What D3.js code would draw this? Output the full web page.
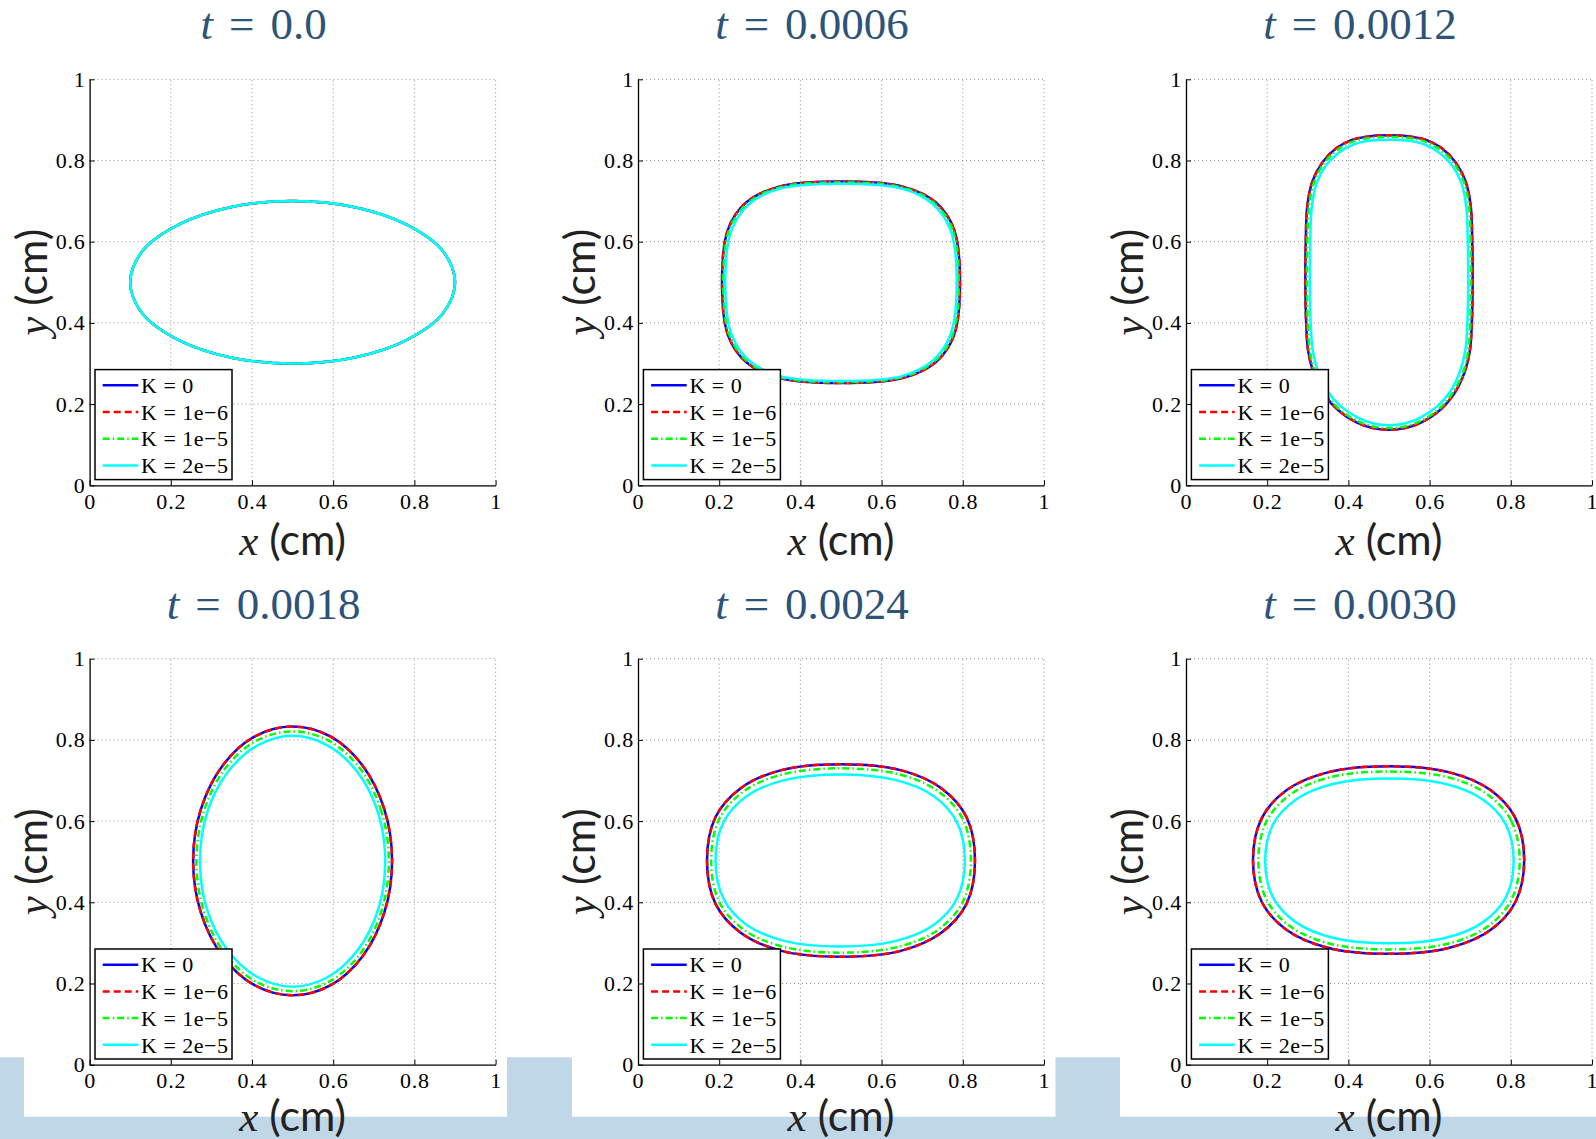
<!DOCTYPE html>
<html><head><meta charset="utf-8">
<script src="https://cdn.jsdelivr.net/npm/d3@7"></script>
<style>body{margin:0;background:#fff}svg{display:block}</style>
</head><body>
<svg id="fig" width="1596" height="1139"></svg>
<script>
// ---------------- data ----------------
const timeLabels = ["0.0", "0.0006", "0.0012", "0.0018", "0.0024", "0.0030"];
const seriesNames = ["K = 0", "K = 1e\u22126", "K = 1e\u22125", "K = 2e\u22125"];
const seriesColors = ["#0000ff", "#ff0000", "#00ff00", "#00ffff"];
const seriesDash = [null, "7,4", "7,3,1.5,3", null];
const tickValues = [0, 0.2, 0.4, 0.6, 0.8, 1];
const tickLabels = ["0", "0.2", "0.4", "0.6", "0.8", "1"];

// contour points [x, y] in cm
// t = 0.0 : all four curves coincide
const t0_all = [[0.900,0.500],[0.870,0.577],[0.783,0.641],[0.653,0.685],[0.500,0.700],[0.347,0.685],[0.217,0.641],[0.130,0.577],[0.100,0.500],[0.130,0.423],[0.217,0.359],[0.347,0.315],[0.500,0.300],[0.653,0.315],[0.783,0.359],[0.870,0.423]];

// t = 0.0006 (K = 0 and K = 1e-6 coincide)
const t1_K0 = [[0.793,0.500],[0.778,0.631],[0.733,0.697],[0.654,0.735],[0.500,0.748],[0.346,0.735],[0.267,0.697],[0.222,0.631],[0.207,0.500],[0.222,0.369],[0.267,0.303],[0.346,0.265],[0.500,0.252],[0.654,0.265],[0.733,0.303],[0.778,0.369]];
const t1_K1e5 = [[0.790,0.500],[0.775,0.630],[0.730,0.695],[0.653,0.733],[0.500,0.746],[0.347,0.733],[0.270,0.695],[0.225,0.630],[0.210,0.500],[0.225,0.370],[0.270,0.305],[0.347,0.267],[0.500,0.254],[0.653,0.267],[0.730,0.305],[0.775,0.370]];
const t1_K2e5 = [[0.785,0.500],[0.770,0.628],[0.726,0.693],[0.650,0.731],[0.500,0.743],[0.350,0.731],[0.274,0.693],[0.230,0.628],[0.215,0.500],[0.230,0.372],[0.274,0.307],[0.350,0.269],[0.500,0.257],[0.650,0.269],[0.726,0.307],[0.770,0.372]];

// t = 0.0012
const t2_K0 = [[0.706,0.500],[0.705,0.600],[0.701,0.690],[0.688,0.750],[0.664,0.795],[0.630,0.830],[0.590,0.851],[0.545,0.860],[0.500,0.862],[0.455,0.860],[0.410,0.851],[0.370,0.830],[0.336,0.795],[0.312,0.750],[0.299,0.690],[0.295,0.600],[0.294,0.500],[0.296,0.400],[0.301,0.330],[0.315,0.275],[0.340,0.225],[0.375,0.185],[0.420,0.155],[0.460,0.141],[0.500,0.137],[0.540,0.141],[0.580,0.155],[0.625,0.185],[0.660,0.225],[0.685,0.275],[0.699,0.330],[0.704,0.400]];
const t2_K1e5 = [[0.702,0.500],[0.701,0.600],[0.697,0.689],[0.684,0.748],[0.661,0.792],[0.627,0.826],[0.588,0.847],[0.544,0.856],[0.500,0.858],[0.456,0.856],[0.412,0.847],[0.373,0.826],[0.339,0.792],[0.316,0.748],[0.303,0.689],[0.299,0.600],[0.298,0.500],[0.300,0.400],[0.305,0.331],[0.318,0.277],[0.343,0.228],[0.377,0.188],[0.421,0.159],[0.461,0.145],[0.500,0.141],[0.539,0.145],[0.579,0.159],[0.623,0.188],[0.657,0.228],[0.682,0.277],[0.695,0.331],[0.700,0.400]];
const t2_K2e5 = [[0.695,0.500],[0.694,0.600],[0.690,0.688],[0.678,0.745],[0.656,0.787],[0.623,0.820],[0.586,0.840],[0.543,0.849],[0.500,0.851],[0.457,0.849],[0.414,0.840],[0.377,0.820],[0.344,0.787],[0.322,0.745],[0.310,0.688],[0.306,0.600],[0.305,0.500],[0.307,0.400],[0.312,0.333],[0.325,0.281],[0.348,0.233],[0.381,0.195],[0.424,0.166],[0.462,0.152],[0.500,0.148],[0.538,0.152],[0.576,0.166],[0.619,0.195],[0.652,0.233],[0.675,0.281],[0.688,0.333],[0.693,0.400]];

// t = 0.0018
const t3_K0 = [[0.745,0.502],[0.726,0.629],[0.673,0.736],[0.594,0.808],[0.500,0.833],[0.406,0.808],[0.327,0.736],[0.274,0.629],[0.255,0.502],[0.274,0.375],[0.327,0.268],[0.406,0.196],[0.500,0.171],[0.594,0.196],[0.673,0.268],[0.726,0.375]];
const t3_K1e5 = [[0.737,0.501],[0.719,0.623],[0.668,0.727],[0.591,0.797],[0.500,0.821],[0.409,0.797],[0.332,0.727],[0.281,0.623],[0.263,0.501],[0.281,0.379],[0.332,0.275],[0.409,0.205],[0.500,0.181],[0.591,0.205],[0.668,0.275],[0.719,0.379]];
const t3_K2e5 = [[0.728,0.501],[0.711,0.619],[0.661,0.719],[0.587,0.786],[0.500,0.810],[0.413,0.786],[0.339,0.719],[0.289,0.619],[0.272,0.501],[0.289,0.383],[0.339,0.283],[0.413,0.216],[0.500,0.192],[0.587,0.216],[0.661,0.283],[0.711,0.383]];

// t = 0.0024
const t4_K0 = [[0.830,0.503],[0.809,0.610],[0.747,0.681],[0.649,0.725],[0.500,0.740],[0.351,0.725],[0.253,0.681],[0.191,0.610],[0.170,0.503],[0.191,0.396],[0.253,0.325],[0.351,0.281],[0.500,0.266],[0.649,0.281],[0.747,0.325],[0.809,0.396]];
const t4_K1e5 = [[0.820,0.503],[0.800,0.605],[0.740,0.673],[0.644,0.715],[0.500,0.730],[0.356,0.715],[0.260,0.673],[0.200,0.605],[0.180,0.503],[0.200,0.401],[0.260,0.333],[0.356,0.291],[0.500,0.276],[0.644,0.291],[0.740,0.333],[0.800,0.401]];
const t4_K2e5 = [[0.805,0.503],[0.785,0.598],[0.728,0.662],[0.636,0.701],[0.498,0.715],[0.360,0.701],[0.268,0.662],[0.211,0.598],[0.191,0.503],[0.211,0.408],[0.268,0.344],[0.360,0.305],[0.498,0.291],[0.636,0.305],[0.728,0.344],[0.785,0.408]];

// t = 0.0030
const t5_K0 = [[0.833,0.504],[0.811,0.608],[0.749,0.677],[0.649,0.720],[0.499,0.735],[0.349,0.720],[0.249,0.677],[0.187,0.608],[0.165,0.504],[0.187,0.400],[0.249,0.331],[0.349,0.288],[0.499,0.273],[0.649,0.288],[0.749,0.331],[0.811,0.400]];
const t5_K1e5 = [[0.822,0.503],[0.801,0.601],[0.741,0.667],[0.645,0.708],[0.500,0.722],[0.355,0.708],[0.259,0.667],[0.199,0.601],[0.178,0.503],[0.199,0.405],[0.259,0.339],[0.355,0.298],[0.500,0.284],[0.645,0.298],[0.741,0.339],[0.801,0.405]];
const t5_K2e5 = [[0.807,0.502],[0.787,0.593],[0.730,0.654],[0.638,0.692],[0.501,0.705],[0.364,0.692],[0.272,0.654],[0.215,0.593],[0.195,0.502],[0.215,0.411],[0.272,0.350],[0.364,0.312],[0.501,0.299],[0.638,0.312],[0.730,0.350],[0.787,0.411]];

// curves per panel, in series order (K=0, K=1e-6, K=1e-5, K=2e-5)
const panelCurves = [
  [t0_all, t0_all, t0_all, t0_all],
  [t1_K0, t1_K0, t1_K1e5, t1_K2e5],
  [t2_K0, t2_K0, t2_K1e5, t2_K2e5],
  [t3_K0, t3_K0, t3_K1e5, t3_K2e5],
  [t4_K0, t4_K0, t4_K1e5, t4_K2e5],
  [t5_K0, t5_K0, t5_K1e5, t5_K2e5]
];

// ---------------- layout ----------------
const svg = d3.select("#fig");
const SIZE = 406;
const lefts = [89.6, 638, 1186];
const bottoms = [485.3, 1064.7];
const xLabelOffsets = [70, 66];
const serif = "'Liberation Serif', 'Times New Roman', serif";
const sans = "Lato, 'Open Sans', sans-serif";

// light-blue page band at bottom
const band = "#c0d7e8";
[[0, 1057.3, 24, 90], [507, 1057.3, 65, 90], [1055.5, 1057.3, 64.5, 90], [0, 1116.7, 1596, 30]]
  .forEach(r => svg.append("rect").attr("x", r[0]).attr("y", r[1]).attr("width", r[2]).attr("height", r[3]).attr("fill", band));

const line = d3.line().curve(d3.curveCatmullRomClosed.alpha(0.5));

panelCurves.forEach((curves, i) => {
  const row = Math.floor(i / 3);
  const left = lefts[i % 3], bottom = bottoms[row], top = bottom - SIZE;
  const x = d3.scaleLinear().domain([0, 1]).range([left, left + SIZE]);
  const y = d3.scaleLinear().domain([0, 1]).range([bottom, top]);
  const g = svg.append("g");

  // grid
  const grid = g.append("g").attr("stroke", "#8c8c8c").attr("stroke-width", 1).attr("stroke-dasharray", "1,3");
  tickValues.filter(v => v > 0).forEach(v => {
    grid.append("line").attr("x1", x(v)).attr("x2", x(v)).attr("y1", y(0)).attr("y2", y(1));
    grid.append("line").attr("x1", x(0)).attr("x2", x(1)).attr("y1", y(v)).attr("y2", y(v));
  });

  // curves
  line.x(d => x(d[0])).y(d => y(d[1]));
  curves.forEach((pts, s) => {
    g.append("path").attr("d", line(pts)).attr("fill", "none")
      .attr("stroke", seriesColors[s]).attr("stroke-width", 2.5)
      .attr("stroke-dasharray", seriesDash[s]);
  });

  // axes
  const fmt = (d) => tickLabels[tickValues.indexOf(d)];
  const ax = g.append("g").attr("transform", `translate(0,${bottom})`)
    .call(d3.axisBottom(x).tickValues(tickValues).tickFormat(fmt).tickSize(-5).tickSizeOuter(0).tickPadding(8));
  const ay = g.append("g").attr("transform", `translate(${left},0)`)
    .call(d3.axisLeft(y).tickValues(tickValues).tickFormat(fmt).tickSize(-5).tickSizeOuter(0).tickPadding(4));
  [ax, ay].forEach(a => {
    a.select(".domain").attr("stroke", "#000").attr("stroke-width", 1.3);
    a.selectAll(".tick line").attr("stroke", "#000").attr("stroke-width", 1);
    a.selectAll(".tick text").attr("font-family", serif).attr("font-size", 22)
      .attr("letter-spacing", "0.8px").attr("fill", "#000");
  });

  // title
  const tt = g.append("text").attr("x", left + SIZE / 2 - 29).attr("y", top - 40)
    .attr("text-anchor", "middle").attr("font-family", serif).attr("font-size", 45)
    .attr("fill", "#2e5378");
  tt.append("tspan").attr("font-style", "italic").text("t");
  tt.append("tspan").attr("dx", 16).text("=");
  tt.append("tspan").attr("dx", 16).text(timeLabels[i]);

  // x label
  const xl = g.append("text").attr("x", left + SIZE / 2).attr("y", bottom + xLabelOffsets[row])
    .attr("text-anchor", "middle").attr("font-size", 43).attr("fill", "#222");
  xl.append("tspan").attr("font-family", serif).attr("font-style", "italic").text("x");
  xl.append("tspan").attr("font-family", sans).text(" (cm)");

  // y label
  const yl = g.append("text").attr("transform", `translate(${left - 43},${bottom - SIZE / 2}) rotate(-90)`)
    .attr("text-anchor", "middle").attr("font-size", 43).attr("fill", "#222");
  yl.append("tspan").attr("font-family", serif).attr("font-style", "italic").text("y");
  yl.append("tspan").attr("font-family", sans).text(" (cm)");

  // legend
  const lx = left + 5.4, ly = bottom - 115.7;
  const lg = g.append("g");
  lg.append("rect").attr("x", lx).attr("y", ly).attr("width", 137).attr("height", 110)
    .attr("fill", "#fff").attr("stroke", "#000").attr("stroke-width", 1.5);
  seriesNames.forEach((name, s) => {
    const cy = ly + 15.7 + s * 26.7;
    lg.append("line").attr("x1", lx + 7.7).attr("x2", lx + 43.3).attr("y1", cy).attr("y2", cy)
      .attr("stroke", seriesColors[s]).attr("stroke-width", 2.5).attr("stroke-dasharray", seriesDash[s]);
    lg.append("text").attr("x", lx + 46).attr("y", cy).attr("dy", "0.35em")
      .attr("font-family", serif).attr("font-size", 22).attr("letter-spacing", "0.5px").text(name);
  });
});
</script>
</body></html>
